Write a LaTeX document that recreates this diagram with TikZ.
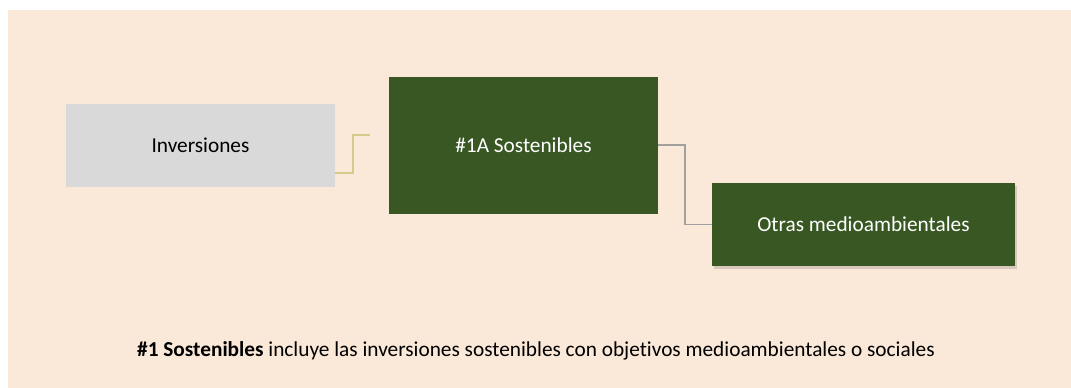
\documentclass[tikz,border=0pt]{standalone}
\usepackage{fontspec}
\setmainfont{Carlito}[Ligatures=NoCommon]
\usetikzlibrary{shadows}
\definecolor{bg}{RGB}{250,232,216}
\definecolor{grbox}{RGB}{217,217,217}
\definecolor{dgreen}{RGB}{56,87,35}
\definecolor{yconn}{RGB}{214,201,140}
\definecolor{gconn}{RGB}{160,160,160}
\tikzset{
  box/.style={rectangle, inner sep=0pt, font=\fontsize{21.3}{25}\selectfont},
  graybox/.style={box, fill=grbox, text=black},
  greenbox/.style={box, fill=dgreen, text=white},
  conn/.style={line width=1.5pt},
}
\begin{document}
\begin{tikzpicture}[x=1pt,y=-1pt]
\useasboundingbox (0,0) rectangle (1071,388);
\fill[bg] (8,10) rectangle (1071,388);
\node[graybox, minimum width=269pt, minimum height=83pt] (inv) at (200.5,145.5) {Inversiones};
\node[greenbox, minimum width=269pt, minimum height=137pt] (sos) at (523.5,145.5) {\#1A Sostenibles};
\node[greenbox, minimum width=303pt, minimum height=83pt, drop shadow={shadow xshift=2pt, shadow yshift=-3pt, opacity=0.2, fill=black!70}] (otr) at (863.5,224.5) {Otras medioambientales};
\coordinate (yend) at (370,135);
\draw[conn, yconn] ([yshift=-27.5pt]inv.east) -- ++(18,0) |- (yend);
\draw[conn, gconn] (sos.east |- 0,145) -- (685,145) |- (otr.west);
\node[anchor=west, inner sep=0pt, font=\fontsize{21.3}{25}\selectfont] (cap) at (137,351) {\textbf{\#1 Sostenibles} incluye las inversiones sostenibles con objetivos medioambientales o sociales};
\end{tikzpicture}
\end{document}
